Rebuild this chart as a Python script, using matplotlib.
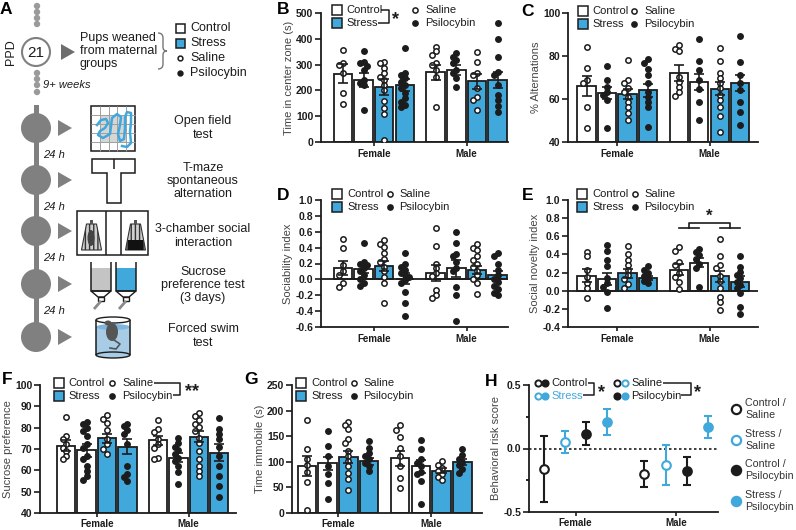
import numpy as np
import matplotlib.pyplot as plt
from matplotlib.patches import Rectangle, Circle, Polygon, Ellipse, PathPatch
from matplotlib.path import Path

plt.rcParams['font.family'] = ['Liberation Sans', 'DejaVu Sans']

# ============================================
# DATA
# ============================================
groups = ["Female", "Male"]
treat_labels = ["Control", "Stress"]
drug_labels = ["Saline", "Psilocybin"]

# bar order per sex: Control/Saline, Control/Psilocybin, Stress/Saline, Stress/Psilocybin
center_mean = [265, 240, 213, 220, 270, 280, 235, 240]
center_sem = [38, 27, 30, 24, 30, 20, 28, 30]
center_pts = [
    [357, 305, 300, 266, 188, 149],
    [353, 312, 305, 296, 279, 240, 230, 221, 123],
    [312, 305, 286, 266, 253, 240, 221, 201, 158, 133, 110, 6],
    [364, 269, 260, 247, 234, 221, 208, 188, 169, 156, 143, 136],
    [370, 351, 338, 305, 299, 279, 253, 136],
    [344, 331, 318, 305, 279, 266, 247, 214],
    [349, 309, 266, 260, 208, 175, 162, 123],
    [460, 398, 331, 272, 260, 221, 182, 162, 140, 117],
]

alt_mean = [66.0, 62.9, 62.3, 64.1, 72.0, 67.8, 64.8, 67.5]
alt_sem = [4.6, 2.8, 2.2, 3.1, 3.6, 3.6, 3.0, 3.7]
alt_pts = [
    [84.4, 74.3, 68.8, 67.3, 56.4, 46.3],
    [75.4, 68.8, 65.7, 63.4, 61.8, 59.5, 46.3],
    [78.2, 68.8, 67.3, 65.0, 63.4, 61.0, 58.7, 56.4, 53.3, 50.2],
    [78.5, 76.6, 73.8, 71.2, 67.6, 63.4, 61.0, 58.7, 56.4, 47.0],
    [85.2, 83.2, 82.1, 70.4, 68.1, 65.7, 63.4, 61.4],
    [87.8, 77.9, 73.5, 68.8, 64.5, 58.7, 50.2],
    [83.6, 77.7, 72.0, 69.6, 67.3, 65.0, 61.8, 59.5, 56.4, 52.0, 44.7],
    [89.1, 77.4, 71.2, 67.3, 64.2, 58.7, 54.0, 47.8],
]

soc_mean = [0.14, 0.125, 0.17, 0.01, 0.085, 0.14, 0.12, 0.05]
soc_sem = [0.09, 0.05, 0.06, 0.07, 0.10, 0.11, 0.05, 0.05]
soc_pts = [
    [0.51, 0.40, 0.18, 0.10, 0.05, -0.05, -0.10],
    [0.46, 0.22, 0.20, 0.18, 0.14, 0.10, 0.05, 0.01, -0.05, -0.08],
    [0.49, 0.45, 0.41, 0.33, 0.26, 0.22, 0.16, 0.10, 0.03, -0.05, -0.30],
    [0.33, 0.19, 0.15, 0.12, 0.08, 0.05, 0.03, -0.01, -0.05, -0.16, -0.30, -0.46],
    [0.65, 0.42, 0.20, 0.14, 0.08, 0.04, -0.13, -0.20, -0.24],
    [0.60, 0.46, 0.32, 0.29, 0.22, 0.14, 0.10, -0.09, -0.20, -0.52],
    [0.45, 0.40, 0.37, 0.29, 0.24, 0.20, 0.16, 0.11, 0.05, 0.01, -0.05, -0.18],
    [0.33, 0.30, 0.20, 0.12, 0.05, 0.01, -0.03, -0.08, -0.12, -0.17, -0.20],
]

nov_mean = [0.165, 0.13, 0.19, 0.14, 0.23, 0.31, 0.16, 0.10]
nov_sem = [0.07, 0.07, 0.05, 0.02, 0.06, 0.05, 0.06, 0.06]
nov_pts = [
    [0.43, 0.38, 0.23, 0.15, 0.08, 0.03, -0.08],
    [0.50, 0.44, 0.34, 0.27, 0.14, 0.08, 0.04, -0.01, -0.19],
    [0.49, 0.41, 0.34, 0.28, 0.23, 0.17, 0.125, 0.07, 0.03],
    [0.27, 0.23, 0.19, 0.16, 0.14, 0.11, 0.08],
    [0.48, 0.44, 0.32, 0.28, 0.19, 0.15, 0.10, 0.015],
    [0.46, 0.43, 0.39, 0.35, 0.29, 0.25, 0.045],
    [0.57, 0.38, 0.28, 0.25, 0.16, 0.11, 0.03, -0.07, -0.12, -0.21],
    [0.38, 0.26, 0.21, 0.17, 0.14, 0.10, 0.06, 0.03, -0.03, -0.18, -0.26],
]

suc_mean = [71.5, 69.3, 75.0, 71.0, 74.0, 66.0, 75.7, 68.3]
suc_sem = [2.5, 3.2, 2.2, 3.5, 2.0, 2.0, 2.6, 4.0]
suc_pts = [
    [85.0, 76.0, 74.5, 72.2, 70.6, 69.1, 66.8, 65.2],
    [82.7, 81.5, 79.9, 78.4, 76.0, 72.2, 70.6, 66.8, 65.2, 62.1, 59.8, 57.5, 55.6],
    [86.1, 84.1, 82.2, 78.8, 74.5, 72.2, 70.2, 67.5],
    [81.9, 80.7, 78.8, 76.8, 72.2, 62.1, 58.3, 56.7, 55.2],
    [83.8, 79.4, 77.9, 74.5, 72.2, 70.6, 66.0, 65.2],
    [75.3, 73.0, 71.1, 69.5, 67.5, 66.0, 64.5, 62.1, 59.0, 53.6],
    [86.9, 85.3, 83.5, 81.9, 80.4, 78.4, 75.3, 73.0, 69.1, 65.2, 62.1, 59.8, 57.2],
    [84.5, 79.4, 76.8, 74.5, 71.1, 66.8, 62.1, 57.5, 52.5, 47.4],
]

imm_mean = [92, 97, 109, 101, 107, 91, 83, 100]
imm_sem = [20, 13, 12, 7, 15, 12, 4, 6]
imm_pts = [
    [181, 125, 105, 93, 80, 61, 6],
    [160, 130, 111, 92, 77, 59, 28],
    [178, 171, 165, 145, 137, 121, 111, 101, 92, 79, 66, 45],
    [141, 127, 118, 111, 105, 98, 92, 82],
    [171, 163, 149, 127, 111, 92, 69, 48],
    [142, 125, 105, 98, 92, 80, 76, 63, 17],
    [101, 93, 88, 82, 77, 71, 65],
    [125, 114, 106, 99, 93, 85, 79],
]

# H: order Control/Saline, Stress/Saline, Control/Psilocybin, Stress/Psilocybin
risk_labels = ["Control /\nSaline", "Stress /\nSaline", "Control /\nPsilocybin", "Stress /\nPsilocybin"]
risk_female = [-0.16, 0.05, 0.115, 0.21]
risk_female_err = [0.26, 0.085, 0.09, 0.10]
risk_male = [-0.20, -0.13, -0.18, 0.17]
risk_male_err = [0.10, 0.155, 0.11, 0.085]

# ============================================
# STYLE / LAYOUT
# ============================================
W, H = 796, 530
BLUE = "#41a8dc"
DARK = "#1c1c1c"
GREY = "#808080"
bar_pos = [0, 1, 2, 3, 4.5, 5.5, 6.5, 7.5]
group_pos = [1.5, 6.0]

fig = plt.figure(figsize=(W / 100, H / 100), dpi=100)


def px_axes(left, top, right, bottom):
    return fig.add_axes([left / W, 1 - bottom / H, (right - left) / W, (bottom - top) / H])


def swarm(vals, tol, step=0.18):
    pattern = [0, -1, 1, -2, 2, -3, 3]
    placed, offs = [], []
    for v in vals:
        used = {k for pv, k in placed if abs(pv - v) < tol}
        k = next(p for p in pattern if p not in used)
        placed.append((v, k))
        offs.append(k * step)
    return np.array(offs)


def style_axes(ax):
    for s in ["top", "right"]:
        ax.spines[s].set_visible(False)
    for s in ["left", "bottom"]:
        ax.spines[s].set_linewidth(1.3)
        ax.spines[s].set_color(DARK)
    ax.tick_params(axis="y", length=4, width=1.2, colors=DARK, pad=1.5)
    ax.tick_params(axis="x", length=3, width=1.2, colors=DARK, pad=2)


def bar_panel(box, means, sems, pts, ylim, yticks, ylabel, fmt, zero_line=False):
    left, top, bottom, bar0, spacing, right = box
    ax = px_axes(left, top, right, bottom)
    ax.set_xlim((left - bar0) / spacing, (right - bar0) / spacing)
    ax.set_ylim(ylim)
    base = 0 if zero_line else ylim[0]
    tol = 0.034 * (ylim[1] - ylim[0])
    for i, x in enumerate(bar_pos):
        face = "white" if i % 4 < 2 else BLUE
        filled = i % 2 == 1
        ax.bar(x, means[i] - base, bottom=base, width=0.9, color=face,
               edgecolor=DARK, linewidth=1.3, zorder=2)
        offs = swarm(pts[i], tol)
        ax.scatter(x + offs, pts[i], s=15, facecolor=DARK if filled else "white",
                   edgecolor=DARK, linewidth=1.1, zorder=3)
        ax.errorbar(x, means[i], yerr=sems[i], fmt="none", ecolor=DARK,
                    elinewidth=1.2, capsize=3.5, capthick=1.2, zorder=4)
    if zero_line:
        ax.axhline(0, color=DARK, lw=1.3, zorder=2.5)
    style_axes(ax)
    ax.set_yticks(yticks)
    ax.set_yticklabels([fmt(v) for v in yticks], fontweight="bold", fontsize=7.5)
    ax.set_xticks(group_pos)
    ax.set_xticklabels(groups, fontweight="bold", fontsize=7)
    ax.set_ylabel(ylabel, fontsize=8, color="#444444", labelpad=1.5)
    return ax


def f1(v):
    return f"{v:.1f}" if abs(v) > 1e-9 else "0.0"


def fi(v):
    return f"{v:.0f}"


ax_b = bar_panel((321, 13, 142, 343, 20.6, 508), center_mean, center_sem, center_pts,
                 (0, 500), np.arange(0, 501, 100), "Time in center zone (s)", fi)
ax_c = bar_panel((568, 13, 142, 586.5, 20.5, 758), alt_mean, alt_sem, alt_pts,
                 (40, 100), np.arange(40, 101, 20), "% Alternations", fi)
ax_d = bar_panel((321, 200, 327, 343, 20.6, 508), soc_mean, soc_sem, soc_pts,
                 (-0.6, 1.0), np.round(np.arange(-0.6, 1.01, 0.2), 1), "Sociability index", f1,
                 zero_line=True)
ax_e = bar_panel((568, 200, 327, 586.5, 20.5, 758), nov_mean, nov_sem, nov_pts,
                 (-0.4, 1.0), np.round(np.arange(-0.4, 1.01, 0.2), 1), "Social novelty index", f1,
                 zero_line=True)
ax_f = bar_panel((40, 385, 513, 66.2, 20.4, 236), suc_mean, suc_sem, suc_pts,
                 (40, 100), np.arange(40, 101, 10), "Sucrose preference", fi)
ax_g = bar_panel((292, 385, 513, 307, 20.7, 482), imm_mean, imm_sem, imm_pts,
                 (0, 250), np.arange(0, 251, 50), "Time immobile (s)", fi)
for a in (ax_f, ax_g):
    a.tick_params(axis="x", pad=1)

# E significance bracket (male groups)
ax_e.plot([4.5, 5.5], [0.69, 0.69], color=DARK, lw=1.2, clip_on=False)
ax_e.plot([6.5, 7.5], [0.69, 0.69], color=DARK, lw=1.2, clip_on=False)
ax_e.plot([5.0, 5.0, 7.0, 7.0], [0.69, 0.75, 0.75, 0.69], color=DARK, lw=1.2, clip_on=False)
ax_e.text(6.0, 0.74, "*", ha="center", va="bottom", fontsize=12, fontweight="bold", color=DARK)

# ---------- H: behavioral risk score ----------
ax_h = px_axes(529, 385, 718, 512)
risk_x = [-1.5, -0.5, 0.5, 1.5]
male_shift = 4.75
ax_h.set_xlim(-2.2, 6.72)
ax_h.set_ylim(-0.5, 0.5)
ax_h.axhline(0, color=DARK, lw=1.2, ls=(0, (1.5, 1.5)), zorder=1)
for j in range(4):
    col = DARK if j % 2 == 0 else BLUE
    face = "white" if j < 2 else col
    for xs, m, e in [(risk_x[j], risk_female[j], risk_female_err[j]),
                     (risk_x[j] + male_shift, risk_male[j], risk_male_err[j])]:
        ax_h.errorbar(xs, m, yerr=e, fmt="o", ms=6.2, mfc=face, mec=col, mew=1.5,
                      ecolor=col, elinewidth=1.5, capsize=3.2, capthick=1.5, zorder=3)
style_axes(ax_h)
ax_h.set_yticks([-0.5, 0.0, 0.5])
ax_h.set_yticklabels(["-0.5", "0.0", "0.5"], fontweight="bold", fontsize=7.5)
ax_h.set_yticks([-0.25, 0.25], minor=True)
ax_h.tick_params(axis="y", which="minor", length=2.5, width=1.2)
ax_h.set_xticks([0, male_shift])
ax_h.set_xticklabels(groups, fontweight="bold", fontsize=7)
ax_h.tick_params(axis="x", pad=1)
ax_h.set_ylabel("Behavioral risk score", fontsize=8, color="#444444", labelpad=1.5)

# ============================================
# OVERLAY (pixel coordinates): panel A, legends, letters
# ============================================
ov = fig.add_axes([0, 0, 1, 1])
ov.set_xlim(0, W)
ov.set_ylim(H, 0)
ov.axis("off")
ov.patch.set_alpha(0)


def txt(x, y, s, **kw):
    kw.setdefault("fontsize", 8)
    kw.setdefault("color", DARK)
    kw.setdefault("va", "center")
    ov.text(x, y, s, **kw)


def square(x, y, face, size=10):
    ov.add_patch(Rectangle((x - size / 2, y - size / 2), size, size, fc=face, ec=DARK, lw=1.1))


def dot(x, y, face, edge=DARK, s=14, lw=1.1):
    ov.scatter([x], [y], s=s, facecolor=face, edgecolor=edge, linewidth=lw, zorder=5)


def bar_legend(xb, y, xt, xc, xct):
    square(xb, y, "white")
    square(xb, y + 13, BLUE)
    txt(xt, y, treat_labels[0])
    txt(xt, y + 13, treat_labels[1])
    dot(xc, y, "white")
    dot(xc, y + 13, DARK)
    txt(xct, y, drug_labels[0])
    txt(xct, y + 13, drug_labels[1])


def line(xs, ys, color=DARK, lw=1.1, **kw):
    ov.plot(xs, ys, color=color, lw=lw, solid_capstyle="butt", **kw)


bar_legend(337, 10, 346, 415, 425)
line([381, 389, 389, 378], [10, 10, 23, 23])
txt(396, 20, "*", fontsize=13, fontweight="bold", ha="center")
bar_legend(583, 11, 592, 634, 644)
bar_legend(337, 194, 347, 390, 399)
bar_legend(582, 194, 592, 635, 644)
bar_legend(59, 383, 68, 112, 122)
line([154, 180, 180, 173], [383, 383, 395, 395])
txt(192, 392, "**", fontsize=13, fontweight="bold", ha="center")
bar_legend(301, 383, 311, 354, 363)

# H legend (inside)
for (xa, ya), face, edge in [((538, 383), "white", DARK), ((545, 383), DARK, DARK),
                             ((538, 396), "white", BLUE), ((545, 396), BLUE, BLUE),
                             ((617, 383), "white", DARK), ((625, 383), "white", BLUE),
                             ((617, 396), DARK, DARK), ((625, 396), BLUE, BLUE)]:
    dot(xa, ya, face, edge, s=20, lw=1.4)
txt(551, 383, treat_labels[0])
txt(551, 396, treat_labels[1], color=BLUE)
line([588, 594, 594, 583], [383, 383, 395, 395])
txt(601, 393, "*", fontsize=13, fontweight="bold", ha="center")
txt(631, 383, drug_labels[0])
txt(631, 396, drug_labels[1])
line([663, 691, 691, 681], [383, 383, 395, 395])
txt(698, 393, "*", fontsize=13, fontweight="bold", ha="center")

# H legend (right)
for j, yy in enumerate([409, 440, 470, 501]):
    col = DARK if j % 2 == 0 else BLUE
    face = "white" if j < 2 else col
    dot(736, yy, face, col, s=44, lw=1.6)
    txt(745, yy, risk_labels[j], fontsize=7.7, color="#333333", linespacing=1.15)

# panel letters
for lab, (x, y) in zip("ABCDEFGH", [(6, 9), (283, 10), (528, 11), (283, 195),
                                    (528, 195), (7, 379), (251, 380), (491, 381)]):
    txt(x, y, lab, fontsize=12.5, fontweight="bold", ha="center", color="black")

# ---------- panel A schematic ----------
LG = "#9a9a9a"
for yy in [6, 12, 18, 24]:
    ov.add_patch(Circle((37, yy), 3.2, fc=LG, ec="none"))
ov.add_patch(Circle((36, 52), 14, fc="white", ec=GREY, lw=1.5))
txt(36, 53, "21", fontsize=11, ha="center")
txt(11, 52, "PPD", fontsize=9, ha="center", rotation=90)
ov.add_patch(Polygon([(61, 44), (61, 60), (75, 52)], fc="#6e6e6e", ec="none"))
txt(80, 51, "Pups weaned\nfrom maternal\ngroups", fontsize=9, linespacing=1.15)
brace = Path([(158, 33), (163, 33), (163, 38), (163, 47), (163, 51), (167, 51),
              (163, 51), (163, 55), (163, 64), (163, 69), (158, 69)],
             [Path.MOVETO, Path.CURVE3, Path.CURVE3, Path.LINETO, Path.CURVE3, Path.CURVE3,
              Path.CURVE3, Path.CURVE3, Path.LINETO, Path.CURVE3, Path.CURVE3])
ov.add_patch(PathPatch(brace, fc="none", ec="#777777", lw=1.0))
square(180, 28, "white", 9)
square(180, 43, BLUE, 9)
dot(180, 58, "white", s=12)
dot(180, 73, DARK, s=12)
txt(190, 28, treat_labels[0], fontsize=9)
txt(190, 43, treat_labels[1], fontsize=9)
txt(190, 58, drug_labels[0], fontsize=9)
txt(190, 73, drug_labels[1], fontsize=9)
for yy in [73, 79, 85, 92]:
    ov.add_patch(Circle((37, yy), 3.2, fc=LG, ec="none"))
txt(43, 85, "9+ weeks", fontsize=8, style="italic")

ov.add_patch(Rectangle((33.5, 105), 5, 232, fc=GREY, ec="none"))
levels = [128, 180, 231, 284, 337]
for yy in levels:
    ov.add_patch(Circle((36, yy), 15, fc=GREY, ec="none"))
    ov.add_patch(Polygon([(58, yy - 8), (58, yy + 8), (72, yy)], fc=GREY, ec="none"))
for yy in [155, 207, 258, 311]:
    txt(43, yy, "24 h", fontsize=8, style="italic")

tests = ["Open field\ntest", "T-maze\nspontaneous\nalternation", "3-chamber social\ninteraction",
         "Sucrose\npreference test\n(3 days)", "Forced swim\ntest"]
for s, yy in zip(tests, [128, 181, 236, 285, 336]):
    txt(203, yy, s, fontsize=9, ha="center", linespacing=1.15)

# open field icon
ov.add_patch(Rectangle((100, 115), 26, 28, fc="#d6d6d6", ec="none"))
for g in np.linspace(91, 135, 6)[1:-1]:
    line([g, g], [106, 151], color="#a0a0a0", lw=0.7)
for g in np.linspace(106, 151, 6)[1:-1]:
    line([91, 135], [g, g], color="#a0a0a0", lw=0.7)
ov.add_patch(Rectangle((91, 106), 44, 45, fc="none", ec=DARK, lw=1.1))
track_x = [97, 101, 106, 108, 105, 100, 98, 103, 110, 111, 112, 117, 121, 120, 118, 120,
           124, 125, 125, 127, 131, 131, 130, 131, 127, 122]
track_y = [125, 120, 119, 123, 128, 131, 135, 138, 134, 126, 118, 114, 117, 125, 134, 141,
           139, 128, 117, 112, 113, 122, 132, 143, 147, 146]
ov.plot(track_x, track_y, color=BLUE, lw=1.8, solid_joinstyle="round")

# T-maze icon
ov.add_patch(Polygon([(92, 159), (135, 159), (135, 173), (121, 173), (121, 203),
                      (107, 203), (107, 173), (92, 173)], fc="white", ec=DARK, lw=1.1))
line([113.5, 113.5], [159, 169])

# 3-chamber icon
ov.add_patch(Rectangle((77, 211), 71, 44, fc="white", ec=DARK, lw=1.1))
line([106, 106], [211, 255])
line([121, 121], [211, 255])
for cx in [91.5, 135.5]:
    ov.add_patch(Polygon([(cx - 5, 224), (cx + 5, 224), (cx + 10, 250), (cx - 10, 250)],
                         fc="#cfcfcf", ec="#333333", lw=0.8, hatch="||||"))
    ov.add_patch(Rectangle((cx - 1.5, 220), 3, 4, fc="#555555", ec="none"))
ov.add_patch(Ellipse((91, 238), 7, 16, fc="#444444", ec="none"))
ov.add_patch(Rectangle((128, 240), 15, 10, fc="#111111", ec="none"))

# sucrose bottles
for bx, liq in [(91, "#c4c4c4"), (116, BLUE)]:
    ov.add_patch(Rectangle((bx, 268), 20, 23, fc=liq, ec="none"))
    line([bx, bx, bx + 20, bx + 20], [262, 291, 291, 262])
    ov.add_patch(Polygon([(bx, 291), (bx + 20, 291), (bx + 13, 297), (bx + 7, 297)],
                         fc="white", ec=DARK, lw=1.0))
    ov.add_patch(Rectangle((bx + 7, 297), 6, 4, fc="white", ec=DARK, lw=1.0))
    line([bx + 10, bx + 3], [301, 309], color="#8a8a8a", lw=2)

# forced swim cylinder
ov.add_patch(Rectangle((96, 327), 34, 28, fc="#a8cbe6", ec="none"))
ov.add_patch(Ellipse((113, 327), 34, 6, fc="#7fb6de", ec="none"))
ov.add_patch(Ellipse((113, 355), 34, 6, fc="#a8cbe6", ec=DARK, lw=1.0))
line([96, 96], [320, 355])
line([130, 130], [320, 355])
ov.add_patch(Ellipse((113, 320), 34, 6, fc="none", ec=DARK, lw=1.0))
ov.add_patch(Ellipse((112, 332), 12, 18, fc="#555555", ec="none"))
ov.add_patch(Ellipse((108, 323), 7, 5, fc="#555555", ec="none"))
ov.plot([114, 120, 116, 110], [340, 344, 349, 348], color="#555555", lw=1.2)

fig.savefig("out.png", dpi=100)
